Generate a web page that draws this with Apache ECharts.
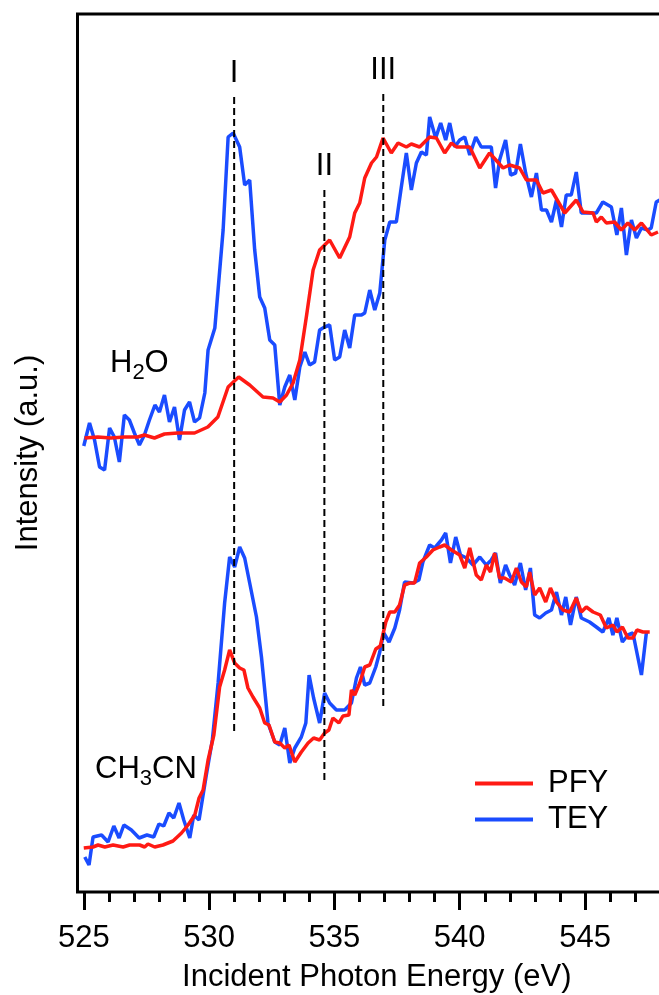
<!DOCTYPE html>
<html>
<head>
<meta charset="utf-8">
<script src="https://cdn.jsdelivr.net/npm/echarts@6/dist/echarts.min.js"></script>
<style>
  html, body { margin: 0; padding: 0; background: #fff; }
  #chart { width: 659px; height: 995px; }
</style>
</head>
<body>
<div id="chart"></div>
<script>
// energy (eV), intensity (a.u.)
const h2oPfy = [[525.03,45.4],[525.56,45.5],[526.08,45.4],[526.62,45.5],[527.15,45.5],[527.42,45.7],[527.82,45.4],[528.22,45.8],[528.75,45.9],[529.42,45.9],[529.95,46.5],[530.35,47.5],[530.76,50.5],[531.18,51.5],[531.62,50.7],[532.15,49.5],[532.55,49.4],[532.82,49.0],[533.09,49.7],[533.35,50.9],[533.62,53.2],[533.88,57.5],[534.15,62.2],[534.41,64.2],[534.81,65.2],[535.21,63.4],[535.61,65.5],[535.81,67.9],[536.01,68.9],[536.21,71.4],[536.48,72.9],[536.68,73.5],[536.94,75.4],[537.27,73.9],[537.54,74.9],[537.87,74.5],[538.07,74.8],[538.40,74.5],[538.80,75.5],[539.07,75.4],[539.40,73.9],[539.67,74.9],[539.87,74.5],[540.40,74.5],[540.80,72.4],[541.19,73.9],[541.73,72.4],[541.99,72.7],[542.39,72.4],[542.66,71.2],[543.06,71.2],[543.32,69.9],[543.66,70.2],[544.19,67.9],[544.65,69.2],[544.92,68.0],[545.32,67.9],[545.45,67.0],[545.65,67.5],[545.85,66.9],[546.18,67.0],[546.45,66.2],[546.71,66.9],[546.98,66.2],[547.25,66.9],[547.64,65.7],[547.91,66.0]];

const h2oTey = [[525.00,44.6],[525.23,46.9],[525.43,45.2],[525.63,42.5],[525.83,42.2],[526.03,46.4],[526.22,45.5],[526.42,43.0],[526.62,47.7],[526.82,47.2],[527.02,45.9],[527.22,44.7],[527.42,45.7],[527.62,47.2],[527.84,48.7],[528.02,48.0],[528.22,49.7],[528.42,47.0],[528.62,48.5],[528.82,45.2],[529.02,48.2],[529.22,49.0],[529.42,47.0],[529.62,47.4],[529.83,49.9],[529.96,54.2],[530.23,56.4],[530.56,66.2],[530.76,75.5],[530.96,75.9],[531.22,74.5],[531.42,70.7],[531.62,71.2],[531.82,64.2],[532.02,59.5],[532.22,58.4],[532.42,55.2],[532.62,54.7],[532.82,48.7],[533.02,50.5],[533.22,51.7],[533.42,49.2],[533.62,52.5],[533.82,54.0],[534.01,52.7],[534.21,53.0],[534.41,56.2],[534.61,56.5],[534.81,56.7],[535.01,53.2],[535.21,53.5],[535.41,56.2],[535.61,54.4],[535.81,57.7],[536.08,57.7],[536.21,57.9],[536.41,60.2],[536.61,58.2],[536.81,59.9],[537.01,65.2],[537.21,67.0],[537.47,67.0],[537.67,70.5],[537.87,73.9],[538.07,70.2],[538.27,72.9],[538.47,74.0],[538.67,73.7],[538.80,77.5],[539.04,75.4],[539.24,76.9],[539.44,75.2],[539.60,76.9],[539.80,74.5],[540.00,75.2],[540.20,75.5],[540.40,73.7],[540.64,75.5],[540.86,74.5],[541.26,74.5],[541.43,70.4],[541.59,73.2],[541.83,75.2],[542.03,71.7],[542.23,71.9],[542.42,74.8],[542.63,71.9],[542.86,69.5],[543.06,71.9],[543.26,68.2],[543.46,68.2],[543.66,67.0],[543.86,69.2],[544.06,66.5],[544.25,69.7],[544.45,69.7],[544.65,72.0],[544.85,67.9],[545.18,67.9],[545.45,67.9],[545.71,69.0],[546.05,68.5],[546.27,65.7],[546.45,68.4],[546.65,63.7],[546.85,67.2],[547.05,65.4],[547.25,66.4],[547.51,66.2],[547.64,66.4],[547.84,69.0],[547.98,69.2]];

const ch3cnPfy = [[525.00,4.4],[525.37,4.5],[525.57,4.7],[525.84,4.5],[526.17,4.7],[526.57,4.5],[526.83,4.7],[527.23,4.7],[527.43,4.5],[527.56,4.8],[527.83,4.5],[528.16,4.7],[528.56,5.1],[528.90,5.9],[529.16,6.7],[529.43,7.7],[529.60,9.4],[529.76,10.2],[529.96,13.2],[530.19,15.7],[530.42,20.5],[530.62,22.2],[530.82,24.2],[531.02,22.9],[531.22,22.4],[531.39,22.2],[531.55,20.4],[531.75,19.5],[532.02,18.4],[532.22,16.9],[532.39,16.7],[532.62,15.0],[532.82,14.9],[533.02,14.4],[533.19,14.7],[533.42,13.0],[533.68,14.0],[533.95,14.9],[534.17,15.4],[534.41,15.2],[534.61,15.9],[534.78,16.2],[534.94,17.4],[535.18,16.9],[535.34,17.6],[535.58,17.7],[535.68,20.2],[535.81,19.7],[536.01,20.9],[536.21,22.5],[536.41,22.7],[536.65,24.3],[536.83,24.6],[537.05,27.0],[537.21,28.0],[537.41,28.0],[537.60,28.7],[537.80,30.7],[538.00,30.9],[538.20,30.9],[538.40,32.9],[538.67,33.5],[538.93,34.2],[539.20,34.5],[539.40,34.7],[539.67,34.2],[540.00,33.7],[540.20,32.4],[540.40,34.4],[540.66,31.7],[540.86,31.2],[541.06,32.7],[541.23,32.0],[541.39,33.9],[541.59,31.4],[541.79,31.4],[542.06,31.0],[542.26,32.4],[542.46,31.0],[542.66,30.5],[542.79,32.0],[542.99,29.7],[543.19,30.4],[543.43,29.0],[543.62,30.4],[543.86,29.0],[544.12,28.2],[544.39,28.0],[544.65,29.4],[544.85,28.0],[545.05,28.5],[545.32,28.0],[545.61,27.7],[545.85,26.4],[546.11,26.7],[546.27,26.0],[546.49,26.5],[546.71,25.4],[546.91,25.4],[547.07,26.2],[547.31,26.0],[547.58,26.0]];

const ch3cnTey = [[525.04,3.5],[525.21,2.7],[525.37,5.5],[525.71,5.7],[525.97,5.0],[526.20,6.6],[526.41,5.4],[526.60,6.7],[526.90,6.2],[527.21,5.4],[527.52,5.7],[527.79,5.5],[528.00,6.8],[528.19,6.6],[528.40,7.9],[528.59,7.4],[528.80,8.9],[528.99,7.2],[529.23,5.4],[529.39,7.7],[529.60,7.2],[529.89,11.7],[530.13,15.2],[530.36,20.9],[530.62,28.9],[530.82,33.5],[531.02,32.5],[531.22,34.5],[531.42,33.4],[531.62,30.9],[531.89,27.5],[532.09,23.5],[532.35,16.9],[532.62,15.0],[532.82,14.7],[533.02,16.4],[533.22,12.9],[533.42,14.4],[533.68,15.5],[533.86,16.9],[533.99,21.7],[534.17,19.4],[534.41,16.9],[534.61,19.9],[534.81,18.9],[535.08,18.2],[535.41,18.2],[535.68,18.9],[535.88,21.4],[536.04,22.5],[536.21,20.7],[536.41,20.9],[536.65,22.5],[536.81,24.0],[536.97,25.9],[537.18,25.0],[537.41,26.4],[537.60,28.2],[537.80,31.0],[538.14,30.9],[538.37,31.2],[538.53,33.0],[538.80,34.7],[539.00,34.4],[539.27,35.2],[539.44,35.9],[539.63,32.9],[539.84,35.5],[540.03,33.7],[540.27,33.4],[540.53,32.7],[540.80,33.5],[541.06,32.7],[541.26,33.2],[541.43,33.9],[541.62,30.9],[541.83,32.7],[541.99,31.7],[542.19,30.7],[542.42,32.9],[542.63,30.2],[542.82,32.4],[542.99,27.7],[543.19,27.4],[543.43,27.9],[543.66,28.2],[543.86,30.0],[544.06,27.7],[544.23,29.5],[544.42,26.7],[544.65,29.5],[544.85,27.4],[545.18,27.0],[545.45,26.5],[545.71,26.0],[545.95,27.4],[546.11,25.7],[546.27,27.4],[546.49,25.0],[546.71,25.7],[546.91,25.9],[547.25,21.7],[547.45,26.0]];

// feature markers I, II, III: position and vertical extent of the dashed guides
const markerNames = ['I', 'II', 'III'];
const markerEnergy = [531.0, 534.6, 536.95];
const markerTop = [79.5, 70.2, 79.8];
const markerBottom = [15.7, 11.0, 18.2];

const majorTicks = [525, 530, 535, 540, 545];
const minorTicks = [526, 527, 528, 529, 531, 532, 533, 534, 536, 537, 538, 539, 541, 542, 543, 544, 546, 547, 548];

const FONT = '"Liberation Sans", Arial, sans-serif';
const FS = 31;
const RED = '#ff1a14';
const BLUE = '#1a4cff';

const chart = echarts.init(document.getElementById('chart'));

const lineSeries = (name, data, color) => ({
  name: name,
  type: 'line',
  data: data,
  showSymbol: false,
  symbol: 'none',
  color: color,
  lineStyle: { color: color, width: 3.5 },
  z: color === RED ? 4 : 3
});

// dashed guides; the top point carries the roman numeral
const markerSeries = markerNames.map((n, i) => ({
  name: n,
  type: 'line',
  symbol: 'circle',
  symbolSize: 1,
  showSymbol: true,
  itemStyle: { color: 'rgba(0,0,0,0)' },
  lineStyle: { color: '#000', width: 2, type: [7, 4] },
  z: 5,
  data: [
    {
      value: [markerEnergy[i], markerTop[i]],
      label: {
        show: true, position: 'top', distance: 8, formatter: n,
        fontSize: FS, color: '#000', fontFamily: FONT
      }
    },
    [markerEnergy[i], markerBottom[i]]
  ]
}));

const subRich = {
  m: { fontSize: FS, lineHeight: 30, fontFamily: FONT, color: '#000', verticalAlign: 'top' },
  s: { fontSize: 22, lineHeight: 22, fontFamily: FONT, color: '#000', verticalAlign: 'top', padding: [14, 0, 0, 0] }
};

chart.setOption({
  animation: false,
  backgroundColor: '#fff',
  grid: {
    left: 77.5, top: 14, right: -6, bottom: 103,
    show: true, borderColor: '#000', borderWidth: 3, backgroundColor: 'transparent',
    containLabel: false, outerBoundsMode: 'none'
  },
  legend: {
    data: ['PFY', 'TEY'],
    orient: 'vertical',
    left: 475, top: 768, padding: 0,
    icon: 'rect', itemWidth: 58, itemHeight: 4, itemGap: 5,
    textStyle: { fontSize: FS, color: '#000', fontFamily: FONT, padding: [0, 0, 0, 10] }
  },
  xAxis: [
    {
      type: 'value', min: 524.75, max: 548.19,
      axisLine: { show: false }, splitLine: { show: false },
      axisTick: { show: true, customValues: majorTicks, length: 18, lineStyle: { color: '#000', width: 3 } },
      axisLabel: { customValues: majorTicks, margin: 31, fontSize: FS, color: '#000', fontFamily: FONT },
      name: 'Incident Photon Energy (eV)', nameLocation: 'middle', nameGap: 70,
      nameTextStyle: { fontSize: FS, color: '#000', fontFamily: FONT, padding: [0, 0, 0, 11] }
    },
    {
      type: 'value', min: 524.75, max: 548.19, position: 'bottom',
      axisLine: { show: false }, splitLine: { show: false }, axisLabel: { show: false },
      axisTick: { show: true, customValues: minorTicks, length: 10, lineStyle: { color: '#000', width: 3 } }
    }
  ],
  yAxis: {
    type: 'value', min: 0, max: 87.8,
    axisLine: { show: false }, axisTick: { show: false }, axisLabel: { show: false }, splitLine: { show: false },
    name: 'Intensity (a.u.)', nameLocation: 'middle', nameGap: 34, nameRotate: 90,
    nameTextStyle: { fontSize: FS, color: '#000', fontFamily: FONT }
  },
  graphic: [
    { type: 'text', left: 110, top: 348, style: { text: '{m|H}{s|2}{m|O}', rich: subRich } },
    { type: 'text', left: 95, top: 754, style: { text: '{m|CH}{s|3}{m|CN}', rich: subRich } }
  ],
  series: [
    lineSeries('TEY', h2oTey, BLUE),
    lineSeries('PFY', h2oPfy, RED),
    lineSeries('TEY', ch3cnTey, BLUE),
    lineSeries('PFY', ch3cnPfy, RED)
  ].concat(markerSeries)
});
</script>
</body>
</html>
